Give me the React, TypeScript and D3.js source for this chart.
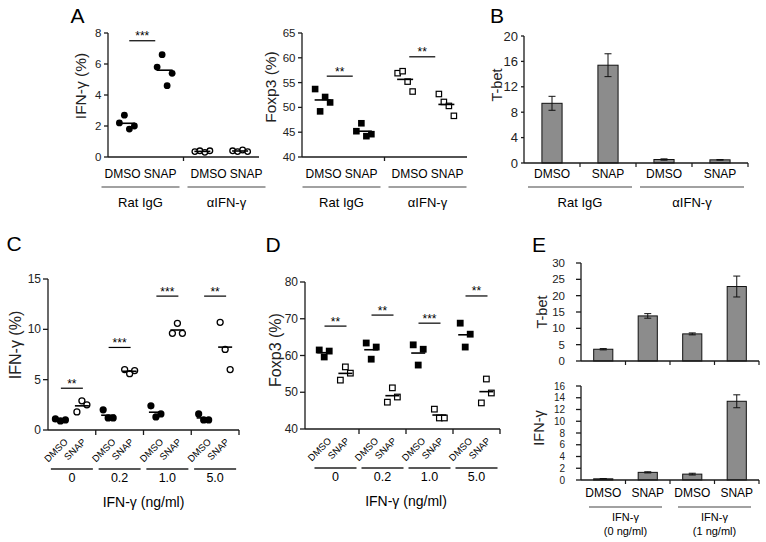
import React from "react";
import * as d3 from "d3";

const FONT = "'Liberation Sans', Arial, Helvetica, sans-serif";
const AX = "#1a1a1a";
const BAR = "#8c8c8c";

// ---------- Panel A ----------
const aTreatments = ["DMSO", "SNAP"];
const aAntibodies = ["Rat IgG", "αIFN-γ"];
const aIfnTicks = [0, 2, 4, 6, 8];
const aIfnRatDMSO = [2.2, 2.7, 1.8, 2.0];
const aIfnRatSNAP = [5.8, 6.6, 4.6, 5.4];
const aIfnAntiDMSO = [0.35, 0.4, 0.3, 0.4];
const aIfnAntiSNAP = [0.4, 0.35, 0.45, 0.35];
const aIfnSigLevels = [7.5, null];
const aIfnSigTexts = ["***", ""];

const aFoxTicks = [40, 45, 50, 55, 60, 65];
const aFoxRatDMSO = [53.7, 49.2, 52.1, 51.0];
const aFoxRatSNAP = [45.2, 46.8, 44.2, 44.6];
const aFoxAntiDMSO = [56.9, 57.3, 55.2, 53.2];
const aFoxAntiSNAP = [52.7, 51.1, 50.3, 48.3];
const aFoxSigLevels = [56.3, 60.2];
const aFoxSigTexts = ["**", "**"];

// ---------- Panel B ----------
const bTbet = [9.4, 15.4, 0.55, 0.5];
const bTbetErr = [1.1, 1.8, 0.1, 0.05];
const bTicks = [0, 4, 8, 12, 16, 20];

// ---------- Panel C ----------
const doses = ["0", "0.2", "1.0", "5.0"];
const cTicks = [0, 5, 10, 15];
const cDMSO = [
  [1.1, 0.9, 1.0],
  [2.0, 1.2, 1.2],
  [2.4, 1.3, 1.6],
  [1.6, 1.0, 1.0],
];
const cSNAP = [
  [1.8, 2.9, 2.5],
  [6.0, 5.6, 5.9],
  [9.6, 10.6, 9.6],
  [10.7, 8.0, 6.0],
];
const cSigLevels = [4.15, 8.2, 13.3, 13.3];
const cSigTexts = ["**", "***", "***", "**"];

// ---------- Panel D ----------
const dTicks = [40, 50, 60, 70, 80];
const dDMSO = [
  [61.5, 59.6, 61.2],
  [63.4, 59.0, 62.3],
  [62.9, 57.4, 61.7],
  [68.8, 62.3, 65.8],
];
const dSNAP = [
  [53.3, 56.9, 55.2],
  [47.3, 51.2, 48.7],
  [45.4, 43.0, 43.0],
  [47.1, 53.6, 49.8],
];
const dSigLevels = [68, 71, 68.8, 76.2];
const dSigTexts = ["**", "**", "***", "**"];

// ---------- Panel E ----------
const eTbet = [3.6, 13.8, 8.3, 22.8];
const eTbetErr = [0.2, 0.7, 0.3, 3.2];
const eTbetTicks = [0, 5, 10, 15, 20, 25, 30];
const eIfn = [0.2, 1.3, 1.0, 13.4];
const eIfnErr = [0.05, 0.1, 0.15, 1.1];
const eIfnTicks = [0, 2, 4, 6, 8, 10, 12, 14, 16];
const eGroupLine1 = ["IFN-γ", "IFN-γ"];
const eGroupLine2 = ["(0 ng/ml)", "(1 ng/ml)"];

const spread = (n: number, j: number, s: number) => (j - (n - 1) / 2) * s;

function YAxis({ x, scale, ticks, fs, tick, labelDx }: any) {
  const [r0, r1] = scale.range();
  return (
    <g>
      <line x1={x} x2={x} y1={r0} y2={r1} stroke={AX} strokeWidth={1.3} />
      {ticks.map((t: number) => (
        <g key={t}>
          <line x1={x - tick} x2={x} y1={scale(t)} y2={scale(t)} stroke={AX} strokeWidth={1.3} />
          <text x={x - labelDx} y={scale(t)} textAnchor="end" dominantBaseline="central" fontSize={fs} fill="#222">
            {t}
          </text>
        </g>
      ))}
    </g>
  );
}

function YTitle({ x, y, text, fs }: any) {
  return (
    <text x={x} y={y} transform={`rotate(-90 ${x} ${y})`} textAnchor="middle" dominantBaseline="central" fontSize={fs} fill="#222">
      {text}
    </text>
  );
}

function Mark({ x, y, shape, filled, size }: any) {
  if (shape === "circle") {
    return filled ? (
      <circle cx={x} cy={y} r={size} fill="#000" />
    ) : (
      <circle cx={x} cy={y} r={size - 0.6} fill="#fff" stroke="#000" strokeWidth={1.3} />
    );
  }
  return filled ? (
    <rect x={x - size} y={y - size} width={size * 2} height={size * 2} fill="#000" />
  ) : (
    <rect x={x - size + 0.6} y={y - size + 0.6} width={size * 2 - 1.2} height={size * 2 - 1.2} fill="#fff" stroke="#000" strokeWidth={1.2} />
  );
}

function PairPanel(p: any) {
  const y = d3.scaleLinear().domain(p.domain).range([p.yBottom, p.yTop]);
  const keys = d3.range(4).map(String);
  const x = d3.scaleBand<string>().domain(keys).range([p.x0, p.x1]);
  const cx = (i: number) => (x(String(i)) as number) + x.bandwidth() / 2;
  const mid = x("2") as number;
  return (
    <g>
      <YAxis x={p.x0} scale={y} ticks={p.ticks} fs={11.5} tick={4} labelDx={6.5} />
      <YTitle x={p.titleX} y={p.titleY} text={p.title} fs={15.5} />
      <line x1={p.x0} x2={p.x1} y1={p.yBottom} y2={p.yBottom} stroke={AX} strokeWidth={1.3} />
      <line x1={mid} x2={mid} y1={p.yBottom} y2={p.yBottom + 4} stroke={AX} strokeWidth={1.3} />
      {p.series.map((vals: number[], i: number) => (
        <g key={i}>
          {vals.map((v, j) => (
            <Mark key={j} x={cx(i) + spread(vals.length, j, 5)} y={y(v)} shape={p.shape} filled={p.filled[i]} size={p.size} />
          ))}
          <line x1={cx(i) - 8} x2={cx(i) + 8} y1={y(d3.mean(vals) as number)} y2={y(d3.mean(vals) as number)} stroke="#000" strokeWidth={1.6} />
        </g>
      ))}
      {p.sigLevels.map((lvl: number | null, g: number) => {
        if (lvl == null) return null;
        const c = (cx(2 * g) + cx(2 * g + 1)) / 2 - 3.5;
        return (
          <g key={g}>
            <line x1={c - 13} x2={c + 13} y1={y(lvl)} y2={y(lvl)} stroke="#000" strokeWidth={1.2} />
            <text x={c} y={y(lvl) - 0.5} textAnchor="middle" fontSize={12}>
              {p.sigTexts[g]}
            </text>
          </g>
        );
      })}
      {aAntibodies.map((ab, g) => {
        const c = mid + (g === 0 ? -43 : 43);
        return (
          <g key={ab}>
            <text x={c} y={p.yBottom + 17} textAnchor="middle" dominantBaseline="central" fontSize={12}>
              {aTreatments.join(" ")}
            </text>
            <line x1={c - 39} x2={c + 39} y1={p.yBottom + 30} y2={p.yBottom + 30} stroke="#444" strokeWidth={1.2} />
            <text x={c} y={p.yBottom + 45} textAnchor="middle" dominantBaseline="central" fontSize={13}>
              {ab}
            </text>
          </g>
        );
      })}
    </g>
  );
}

function DosePanel(p: any) {
  const y = d3.scaleLinear().domain(p.domain).range([p.yBottom, p.yTop]);
  const x = d3.scaleBand<string>().domain(doses).range([p.gx0, p.x1]);
  const gw = x.bandwidth();
  const gc = (d: string) => (x(d) as number) + gw / 2;
  const yb = p.yBottom;
  return (
    <g>
      <YAxis x={p.x0} scale={y} ticks={p.ticks} fs={12} tick={5} labelDx={7} />
      <YTitle x={p.titleX} y={p.titleY} text={p.title} fs={16} />
      <line x1={p.x0} x2={p.x1} y1={yb} y2={yb} stroke={AX} strokeWidth={1.3} />
      {doses.map((d, i) => {
        const c = gc(d);
        const xd = c - 0.24 * gw;
        const xs = c + 0.21 * gw;
        const md = d3.mean(p.dmso[i]) as number;
        const ms = d3.mean(p.snap[i]) as number;
        return (
          <g key={d}>
            <line x1={(x(d) as number) + gw} x2={(x(d) as number) + gw} y1={yb} y2={yb + 5} stroke={AX} strokeWidth={1.3} />
            {p.dmso[i].map((v: number, j: number) => (
              <Mark key={"d" + j} x={xd + spread(3, j, 5)} y={y(v)} shape={p.shape} filled={true} size={p.size} />
            ))}
            {p.snap[i].map((v: number, j: number) => (
              <Mark key={"s" + j} x={xs + spread(3, j, 5)} y={y(v)} shape={p.shape} filled={false} size={p.size} />
            ))}
            <line x1={xd - 7} x2={xd + 7} y1={y(md)} y2={y(md)} stroke="#000" strokeWidth={1.6} />
            <line x1={xs - 7} x2={xs + 7} y1={y(ms)} y2={y(ms)} stroke="#000" strokeWidth={1.6} />
            <line x1={c - 11} x2={c + 11} y1={y(p.sigLevels[i])} y2={y(p.sigLevels[i])} stroke="#000" strokeWidth={1.2} />
            <text x={c} y={y(p.sigLevels[i]) - 0.5} textAnchor="middle" fontSize={12}>
              {p.sigTexts[i]}
            </text>
            <text x={c - 3.5} y={yb + 12.5} textAnchor="end" fontSize={9.5} transform={`rotate(-45 ${c - 3.5} ${yb + 12.5})`}>
              {aTreatments[0]}
            </text>
            <text x={c + 14.5} y={yb + 12.5} textAnchor="end" fontSize={9.5} transform={`rotate(-45 ${c + 14.5} ${yb + 12.5})`}>
              {aTreatments[1]}
            </text>
            <line x1={c - 21} x2={c + 21} y1={yb + 39} y2={yb + 39} stroke="#222" strokeWidth={1.6} />
            <text x={c} y={yb + 47.5} textAnchor="middle" dominantBaseline="central" fontSize={12.5}>
              {d}
            </text>
          </g>
        );
      })}
      <text x={(p.gx0 + p.x1) / 2} y={yb + 72} textAnchor="middle" dominantBaseline="central" fontSize={14}>
        IFN-γ (ng/ml)
      </text>
    </g>
  );
}

function Bars(p: any) {
  const y = d3.scaleLinear().domain(p.domain).range([p.yBottom, p.yTop]);
  const keys = d3.range(p.values.length).map(String);
  const x = d3.scaleBand<string>().domain(keys).range([p.x0, p.x1]).paddingInner(p.padIn).paddingOuter(p.padOut);
  const bw = x.bandwidth();
  const step = x.step();
  return (
    <g>
      <YAxis x={p.x0} scale={y} ticks={p.ticks} fs={p.tickFs} tick={p.tickLen} labelDx={p.labelDx} />
      <YTitle x={p.titleX} y={p.titleY} text={p.title} fs={14.5} />
      {p.values.map((v: number, i: number) => {
        const bx = x(String(i)) as number;
        const c = bx + bw / 2;
        const e = p.errs[i];
        return (
          <g key={i}>
            <rect x={bx} y={y(v)} width={bw} height={p.yBottom - y(v)} fill={BAR} stroke="#111" strokeWidth={1} />
            <line x1={c} x2={c} y1={y(v + e)} y2={y(Math.max(0, v - e))} stroke="#111" strokeWidth={1} />
            <line x1={c - 3.5} x2={c + 3.5} y1={y(v + e)} y2={y(v + e)} stroke="#111" strokeWidth={1} />
            <line x1={c - 3.5} x2={c + 3.5} y1={y(Math.max(0, v - e))} y2={y(Math.max(0, v - e))} stroke="#111" strokeWidth={1} />
            <line x1={bx + bw / 2 + step / 2} x2={bx + bw / 2 + step / 2} y1={p.yBottom} y2={p.yBottom + 4} stroke={AX} strokeWidth={1.2} />
          </g>
        );
      })}
      <line x1={p.x0} x2={p.x1} y1={p.yBottom} y2={p.yBottom} stroke={AX} strokeWidth={1.3} />
      {p.labels &&
        p.values.map((_: number, i: number) => {
          const c = (x(String(i)) as number) + bw / 2;
          return (
            <text key={"l" + i} x={c} y={p.yBottom + p.labelDy} textAnchor="middle" dominantBaseline="central" fontSize={12}>
              {aTreatments[i % 2]}
            </text>
          );
        })}
      {p.groups &&
        p.groups.map((lines: string[], g: number) => {
          const c1 = (x(String(2 * g)) as number) + bw / 2;
          const c2 = (x(String(2 * g + 1)) as number) + bw / 2;
          const c = (c1 + c2) / 2 + p.groupDx;
          return (
            <g key={"g" + g}>
              <line x1={c - p.ulHalf} x2={c + p.ulHalf} y1={p.yBottom + p.ulDy} y2={p.yBottom + p.ulDy} stroke="#444" strokeWidth={1.2} />
              {lines.map((t: string, k: number) => (
                <text key={k} x={c} y={p.yBottom + p.groupDy + k * p.lineGap} textAnchor="middle" dominantBaseline="central" fontSize={p.groupFs}>
                  {t}
                </text>
              ))}
            </g>
          );
        })}
    </g>
  );
}

function Letter({ x, y, t }: any) {
  return (
    <text x={x} y={y} textAnchor="middle" dominantBaseline="central" fontSize={21}>
      {t}
    </text>
  );
}

export default function App() {
  return (
    <svg width={766} height={542} style={{ position: "absolute", left: 0, top: 0 }} fontFamily={FONT}>
      <rect width={766} height={542} fill="#fff" />
      <Letter x={77.5} y={15.5} t="A" />
      <Letter x={497} y={15.5} t="B" />
      <Letter x={14} y={243} t="C" />
      <Letter x={273} y={244} t="D" />
      <Letter x={539} y={244} t="E" />

      <PairPanel
        x0={108} x1={259} yBottom={157} yTop={33} domain={[0, 8]} ticks={aIfnTicks}
        series={[aIfnRatDMSO, aIfnRatSNAP, aIfnAntiDMSO, aIfnAntiSNAP]}
        filled={[true, true, false, false]} shape="circle" size={3.4}
        sigLevels={aIfnSigLevels} sigTexts={aIfnSigTexts}
        title="IFN-γ (%)" titleX={80} titleY={86}
      />
      <PairPanel
        x0={302} x1={467} yBottom={157} yTop={33} domain={[40, 65]} ticks={aFoxTicks}
        series={[aFoxRatDMSO, aFoxRatSNAP, aFoxAntiDMSO, aFoxAntiSNAP]}
        filled={[true, true, false, false]} shape="square" size={3.3}
        sigLevels={aFoxSigLevels} sigTexts={aFoxSigTexts}
        title="Foxp3 (%)" titleX={270} titleY={87}
      />

      <Bars
        x0={524} x1={748} yBottom={163} yTop={36} domain={[0, 20]} ticks={bTicks}
        values={bTbet} errs={bTbetErr} padIn={0.64} padOut={0.32}
        tickFs={13} tickLen={3} labelDx={6}
        title="T-bet" titleX={497} titleY={85}
        labels={true} labelDy={11}
        groups={aAntibodies.map((a) => [a])} groupDx={0} ulHalf={52} ulDy={24} groupDy={39} groupFs={13} lineGap={12}
      />

      <DosePanel
        x0={48} gx0={48} x1={239} yBottom={430} yTop={279} domain={[0, 15]} ticks={cTicks}
        dmso={cDMSO} snap={cSNAP} shape="circle" size={3.6}
        sigLevels={cSigLevels} sigTexts={cSigTexts}
        title="IFN-γ (%)" titleX={15} titleY={345}
      />
      <DosePanel
        x0={305} gx0={312} x1={500} yBottom={429} yTop={282} domain={[40, 80]} ticks={dTicks}
        dmso={dDMSO} snap={dSNAP} shape="square" size={3.4}
        sigLevels={dSigLevels} sigTexts={dSigTexts}
        title="Foxp3 (%)" titleX={275} titleY={350}
      />

      <Bars
        x0={581} x1={759} yBottom={361} yTop={263} domain={[0, 30]} ticks={eTbetTicks}
        values={eTbet} errs={eTbetErr} padIn={0.57} padOut={0.285}
        tickFs={11.5} tickLen={5} labelDx={16}
        title="T-bet" titleX={542} titleY={312}
      />
      <Bars
        x0={581} x1={759} yBottom={480} yTop={386} domain={[0, 16]} ticks={eIfnTicks}
        values={eIfn} errs={eIfnErr} padIn={0.57} padOut={0.285}
        tickFs={10} tickLen={5} labelDx={16}
        title="IFN-γ" titleX={539} titleY={428}
        labels={true} labelDy={13}
        groups={eGroupLine1.map((a, i) => [a, eGroupLine2[i]])} groupDx={0} ulHalf={36.5} ulDy={27} groupDy={37} groupFs={11} lineGap={13.5}
      />
    </svg>
  );
}
